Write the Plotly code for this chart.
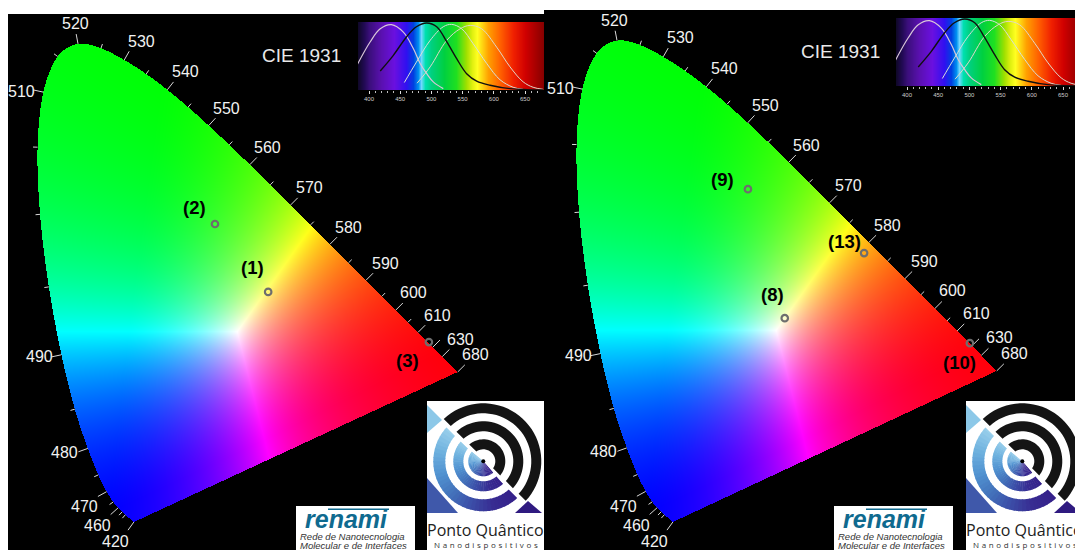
import base64, struct, zlib
import numpy as np
import plotly.graph_objects as go

# ---- data -----------------------------------------------------------------
LOCUS_NM = [420,430,440,450,455,460,465,470,475,480,485,490,495,500,505,510,515,520,525,530,535,540,545,550,555,560,565,570,575,580,585,590,595,600,605,610,615,620,625,630,640,650,660,680]
LOCUS_X = [.1714,.1689,.1644,.1566,.1510,.1440,.1355,.1241,.1096,.0913,.0687,.0454,.0235,.0082,.0039,.0139,.0389,.0743,.1142,.1547,.1929,.2296,.2658,.3016,.3373,.3731,.4087,.4441,.4788,.5125,.5448,.5752,.6029,.6270,.6482,.6658,.6801,.6915,.7006,.7079,.7190,.7260,.7300,.7347]
LOCUS_Y = [.0051,.0069,.0109,.0177,.0227,.0297,.0399,.0578,.0868,.1327,.2007,.2950,.4127,.5384,.6548,.7502,.8120,.8338,.8262,.8059,.7816,.7543,.7243,.6923,.6589,.6245,.5896,.5547,.5202,.4866,.4544,.4242,.3965,.3725,.3514,.3340,.3197,.3083,.2993,.2920,.2809,.2740,.2700,.2653]
MAJOR_TICKS = [420,460,470,480,490,510,520,530,540,550,560,570,580,590,600,610,620,630,680]
MINOR_TICKS = [450,455,465,475,485,495,500,505,515,525,535,545,555,565,575,585,595,605]
LABELLED = [420,460,470,480,490,510,520,530,540,550,560,570,580,590,600,610,630,680]
LABEL_SHIFT = {420:(-18,-19),460:(-21,-18),470:(-22,-15),480:(-23,-4),490:(-22,-2),510:(-22,1),520:(-3,20),530:(17,19),540:(18,18),550:(18,17.5),560:(18,17),570:(19,17),580:(19,17),590:(19,17),600:(18,18),610:(19,17),630:(18,17.5),680:(18,17)}

LEFT_NAMES = ["(1)","(2)","(3)"]
LEFT_PX = [.405,.3125,.6845]
LEFT_PY = [.404,.5217,.317]
LEFT_SHIFT = [(-16,24),(-20,16),(-21,-18)]
RIGHT_NAMES = ["(8)","(9)","(10)","(13)"]
RIGHT_PX = [.366,.302,.688,.504]
RIGHT_PY = [.356,.578,.313,.468]
RIGHT_SHIFT = [(-12,24),(-25,10),(-10,-19),(-20,12)]

# colour model of the diagram fill
WHITE_POINT = (0.3512, 0.335)
PRIMARY_R = (0.80, 0.335)
PRIMARY_G = (0.22, 0.85)
PRIMARY_B = (0.12, 0.01)

# cone sensitivity inset
S_NM=[381,402,418,436,455,471,482,492.5,503,519]
S_V=[.37,.71,.90,.96,.85,.61,.39,.24,.12,.02]
M1_NM=[418,439,460,476,492.5,508.5,524.5,540.5,556.5,572.6,594,626,679]
M1_V=[.28,.51,.78,.93,.985,.93,.71,.46,.24,.13,.07,.02,0]
M2_NM=[456.6,476,498,519,532.5,548.6,567,588.6,610,631,647]
M2_V=[.11,.41,.73,.93,.965,.90,.68,.39,.15,.04,.01]
L_NM=[477,498,524.5,546,562,580.6,604.6,626,647,663,679]
L_V=[.10,.34,.73,.90,.95,.90,.63,.34,.12,.04,.01]
PEAK_NM=[437,498,533,564]
PEAK_COL=["#1010c0","#ffffff","#20c020","#c01010"]
BAND_NM=[382,392,400,420,440,460,470,478,484,490,500,520,540,555,565,573,590,610,630,650,682]
BAND_COL=["#10082a","#220a55","#3a0f7a","#5a10b0","#6a10e0","#3010f0","#0040e0","#0090f0","#70d8ff","#00e0b0","#00d080","#00d040","#20e020","#a0e000","#e0f010","#ffff20","#ffa000","#ff6000","#f02000","#d00000","#800000"]
BAND_TICKS=[400,450,500,550,600,650]
BAND_MINOR=[410,420,430,440,460,470,480,490,510,520,530,540,560,570,580,590,610,620,630,640,660,670]

# logo geometry (renami / Ponto Quantico)
RING_BLACK=[(12,22),(30,40),(48,58)]
RING_BLUE=[(0,15),(20,30),(38,50)]
BLUE_RAMP=[(154,208,236),(111,178,223),(82,148,210),(68,116,188),(60,78,168),(56,44,146),(53,32,138)]

# ---- helpers --------------------------------------------------------------
PANEL_L = dict(left=8,right=544,top=14,bottom=550,x0=35.3,y0=525,sy=577)
PANEL_R = dict(left=544,right=1075,top=10,bottom=550,x0=574.3,y0=525,sy=581)
SX = 575
lx=np.array(LOCUS_X); ly=np.array(LOCUS_Y); lnm=np.array(LOCUS_NM)

def smooth_outline():
    px=[];py=[]
    n=len(lx)
    for i in range(n-1):
        i0,i1,i2,i3=max(i-1,0),i,i+1,min(i+2,n-1)
        for t in np.linspace(0,1,6,endpoint=False):
            for arr,out in ((lx,px),(ly,py)):
                a,b,c,d=arr[i0],arr[i1],arr[i2],arr[i3]
                out.append(.5*(2*b+(c-a)*t+(2*a-5*b+4*c-d)*t**2+(3*b-a-3*c+d)*t**3))
    px.append(lx[-1]);py.append(ly[-1])
    return np.array(px),np.array(py)

OUTX,OUTY=smooth_outline()

def inside(x,y):
    res=np.zeros(x.shape,bool)
    xs,ys=OUTX,OUTY
    for i in range(len(xs)):
        j=i-1
        c=((ys[i]>y)!=(ys[j]>y))
        xint=(xs[j]-xs[i])*(y-ys[i])/(ys[j]-ys[i]+1e-12)+xs[i]
        res^=c&(x<xint)
    return res

def png_uri(rgb):
    h,w,_=rgb.shape
    raw=b"".join(b"\x00"+rgb[i].tobytes() for i in range(h))
    def chunk(t,d):
        c=struct.pack(">I",len(d))+t+d
        return c+struct.pack(">I",zlib.crc32(t+d)&0xffffffff)
    data=b"\x89PNG\r\n\x1a\n"+chunk(b"IHDR",struct.pack(">IIBBBBB",w,h,8,2,0,0,0))+chunk(b"IDAT",zlib.compress(raw,6))+chunk(b"IEND",b"")
    return "data:image/png;base64,"+base64.b64encode(data).decode()

def panel_image(xr,yr,w,h):
    xs=xr[0]+(np.arange(w)+.5)/w*(xr[1]-xr[0])
    ys=yr[1]-(np.arange(h)+.5)/h*(yr[1]-yr[0])
    X,Y=np.meshgrid(xs,ys)
    T=np.array([[PRIMARY_R[0],PRIMARY_G[0],PRIMARY_B[0]],[PRIMARY_R[1],PRIMARY_G[1],PRIMARY_B[1]],[1,1,1]])
    Ti=np.linalg.inv(T)
    w0=Ti@np.array([WHITE_POINT[0],WHITE_POINT[1],1])
    P=np.stack([X,Y,np.ones_like(X)],axis=-1)
    W=(P@Ti.T)/w0
    W=np.clip(W,0,None)
    W=W/np.maximum(W.max(axis=-1,keepdims=True),1e-9)
    W=W**1.4
    img=(W*255).astype(np.uint8)
    img[~inside(X,Y)]=0
    return img

def ranges(p):
    xr=((p["left"]-p["x0"])/SX,(p["right"]-p["x0"])/SX)
    yr=((p["y0"]-p["bottom"])/p["sy"],(p["y0"]-p["top"])/p["sy"])
    return xr,yr

def tick_path(sy):
    gx=np.gradient(lx)*SX; gy=np.gradient(ly)*sy
    nx,ny=gy,-gx
    norm=np.hypot(nx,ny)+1e-9; nx=nx/norm; ny=ny/norm
    flip=((lx-.35)*nx+(ly-.33)*ny)<0
    nx[flip]*=-1; ny[flip]*=-1
    xs=[];ys=[]
    for nm,l in [(n,10) for n in MAJOR_TICKS]+[(n,4.5) for n in MINOR_TICKS]:
        i=LOCUS_NM.index(nm)
        xs+=[lx[i],lx[i]+nx[i]*l/SX,None]
        ys+=[ly[i],ly[i]+ny[i]*l/sy,None]
    return xs,ys

W_FIG,H_FIG=1075,550
fig=go.Figure()
def dom_x(a,b): return [a/W_FIG,b/W_FIG]
def dom_y(t,b): return [1-b/H_FIG,1-t/H_FIG]
hidden=dict(visible=False,showgrid=False,zeroline=False,fixedrange=True)

images=[];annots=[];shapes=[]
LABEL_FONT=dict(family="Liberation Sans",size=16,color="#f2f2f2")
NAME_FONT=dict(family="Liberation Sans",size=18.5,color="#000000")

layout_axes={}
for k,p,names,ptx,pty,shf,ciex,ciey in (("",PANEL_L,LEFT_NAMES,LEFT_PX,LEFT_PY,LEFT_SHIFT,301,55),("2",PANEL_R,RIGHT_NAMES,RIGHT_PX,RIGHT_PY,RIGHT_SHIFT,840,51)):
    xr,yr=ranges(p)
    layout_axes["xaxis"+k]=dict(hidden,domain=dom_x(p["left"],p["right"]),range=list(xr),anchor="y"+k)
    layout_axes["yaxis"+k]=dict(hidden,domain=dom_y(p["top"],p["bottom"]),range=list(yr),anchor="x"+k)
    images.append(dict(source=png_uri(panel_image(xr,yr,p["right"]-p["left"],p["bottom"]-p["top"])),xref="x"+k,yref="y"+k,x=xr[0],y=yr[1],sizex=xr[1]-xr[0],sizey=yr[1]-yr[0],sizing="stretch",layer="below",xanchor="left",yanchor="top"))
    tx,ty=tick_path(p["sy"])
    fig.add_trace(go.Scatter(x=tx,y=ty,mode="lines",line=dict(color="#d8d8d8",width=1),xaxis="x"+k,yaxis="y"+k,hoverinfo="skip",showlegend=False))
    fig.add_trace(go.Scatter(x=ptx,y=pty,mode="markers",marker=dict(symbol="circle-open",size=6.5,color="#6e6e6e",line=dict(width=2.2,color="#6e6e6e")),xaxis="x"+k,yaxis="y"+k,showlegend=False))
    for nm in LABELLED:
        i=LOCUS_NM.index(nm)
        annots.append(dict(x=lx[i],y=ly[i],xref="x"+k,yref="y"+k,text=str(nm),showarrow=False,xshift=LABEL_SHIFT[nm][0],yshift=LABEL_SHIFT[nm][1],font=LABEL_FONT,xanchor="center",yanchor="middle"))
    for n,a,b,s in zip(names,ptx,pty,shf):
        annots.append(dict(x=a,y=b,xref="x"+k,yref="y"+k,text="<b>"+n+"</b>",showarrow=False,xshift=s[0],yshift=s[1],font=NAME_FONT,xanchor="center",yanchor="middle"))
    annots.append(dict(x=ciex,y=ciey,xref="x5",yref="y5",text="CIE 1931",showarrow=False,font=dict(family="Liberation Sans",size=19,color="#e8e8e8"),xanchor="center",yanchor="middle"))

# spectrum insets
for xa,ya,off,top,bot,left,right in (("x3","y3",0,22,90,358,544),("x4","y4",538,18,86,896,1075)):
    nm0=400+(left-off-369)/.624; nm1=400+(right-off-369)/.624
    layout_axes["xaxis"+xa[1:]]=dict(domain=dom_x(left,right),range=[nm0,nm1],anchor=ya,showgrid=False,zeroline=False,fixedrange=True,showline=False,
        tickmode="array",tickvals=BAND_TICKS,ticktext=[str(v) for v in BAND_TICKS],ticks="outside",ticklen=3,tickcolor="#dddddd",tickwidth=1,
        tickfont=dict(family="Liberation Sans",size=6,color="#cccccc"),minor=dict(tickvals=BAND_MINOR,ticks="outside",ticklen=2,tickcolor="#bbbbbb"))
    layout_axes["yaxis"+ya[1:]]=dict(hidden,domain=dom_y(top,bot),range=[0,1],anchor=xa)
    scale=[[(n-BAND_NM[0])/(BAND_NM[-1]-BAND_NM[0]),c] for n,c in zip(BAND_NM,BAND_COL)]
    fig.add_trace(go.Heatmap(x=BAND_NM,y=[0,1],z=[BAND_NM,BAND_NM],zmin=BAND_NM[0],zmax=BAND_NM[-1],colorscale=scale,zsmooth="best",showscale=False,xaxis=xa,yaxis=ya,hoverinfo="skip"))
    for xs,ys,col,wd in ((S_NM,S_V,"#d8c6d8",1.2),(M2_NM,M2_V,"#d8e0d8",1.0),(L_NM,L_V,"#e0d8c8",1.0),(M1_NM,M1_V,"#101010",1.4)):
        fig.add_trace(go.Scatter(x=xs,y=ys,mode="lines",line=dict(color=col,width=wd,shape="spline"),xaxis=xa,yaxis=ya,hoverinfo="skip",showlegend=False,cliponaxis=False))
    fig.add_trace(go.Scatter(x=PEAK_NM,y=[1.04]*4,mode="markers+text",text=[str(v) for v in PEAK_NM],textposition="top center",textfont=dict(family="Liberation Sans",size=6,color="#dddddd"),
        marker=dict(symbol="triangle-down",size=6,color=PEAK_COL),xaxis=xa,yaxis=ya,showlegend=False,cliponaxis=False))

# overlay axis in picture units for the logos
layout_axes["xaxis5"]=dict(hidden,domain=[0,1],range=[0,W_FIG],anchor="y5")
layout_axes["yaxis5"]=dict(hidden,domain=[0,1],range=[H_FIG,0],anchor="x5")
fig.add_trace(go.Scatter(x=[0],y=[0],mode="markers",marker=dict(size=1,opacity=0),xaxis="x5",yaxis="y5",showlegend=False,hoverinfo="skip"))

def sector(cx,cy,r0,r1,a0,a1,trim0,trim1):
    def arc(r):
        m0=np.degrees(np.arcsin(min(trim0/r,.95))) if trim0 else 0
        m1=np.degrees(np.arcsin(min(trim1/r,.95))) if trim1 else 0
        an=np.radians(np.linspace(a0+m0,a1-m1,6))
        return [(cx+r*np.cos(t),cy-r*np.sin(t)) for t in an]
    outer=arc(r1)
    inner=list(reversed(arc(r0))) if r0>0 else [(cx,cy)]
    p=outer+inner
    return "M"+" L".join(f"{a:.2f},{b:.2f}" for a,b in p)+" Z"

def poly(points,color):
    return dict(type="path",xref="x5",yref="y5",path="M"+" L".join(f"{a},{b}" for a,b in points)+" Z",fillcolor=color,line=dict(width=0),layer="above")

def ramp(t):
    pos=t*(len(BLUE_RAMP)-1)
    c=[np.interp(pos,range(len(BLUE_RAMP)),[v[j] for v in BLUE_RAMP]) for j in range(3)]
    return "rgb(%d,%d,%d)"%tuple(c)

N_SLICES=36
for dx,rect_l,rect_r in ((0,427,544),(539,966,1075)):
    shapes.append(dict(type="rect",xref="x5",yref="y5",x0=rect_l,x1=rect_r,y0=401,y1=550,fillcolor="white",line=dict(width=0),layer="above"))
    cx,cy=483.3+dx,461.3
    for r0,r1 in RING_BLUE:
        st=180/N_SLICES
        for i in range(N_SLICES):
            last=i==N_SLICES-1
            shapes.append(dict(type="path",xref="x5",yref="y5",path=sector(cx,cy,r0,r1,135+i*st,135+(i+1)*st+(0 if last else 1),2 if i==0 else 0,2 if last else 0),fillcolor=ramp(i/(N_SLICES-1)),line=dict(width=0),layer="above"))
    for r0,r1 in RING_BLACK:
        shapes.append(dict(type="path",xref="x5",yref="y5",path=sector(cx,cy,r0,r1,-45,135,2,2).replace("Z","Z") if False else "M"+" L".join(
            f"{cx+r*np.cos(t):.2f},{cy-r*np.sin(t):.2f}" for r,t in
            [(r1,a) for a in np.radians(np.linspace(-45+np.degrees(np.arcsin(2/r1)),135-np.degrees(np.arcsin(2/r1)),40))]+
            [(r0,a) for a in np.radians(np.linspace(135-np.degrees(np.arcsin(2/r0)),-45+np.degrees(np.arcsin(2/r0)),40))])+" Z",
            fillcolor="#141414",line=dict(width=0),layer="above"))
    shapes.append(poly([(427+dx,405),(442+dx,420),(427+dx,433)],"#8cc8e8"))
    shapes.append(poly([(427+dx,478),(458+dx,513),(427+dx,513)],"#3f58aa"))
    shapes.append(poly([(515+dx,513),(542+dx,513),(528+dx,501)],"#2f1a80"))
    shapes.append(dict(type="circle",xref="x5",yref="y5",x0=cx-2,x1=cx+2,y0=cy-2,y1=cy+2,fillcolor="#000000",line=dict(width=0),layer="above"))
    annots.append(dict(x=485.5+dx,y=530,xref="x5",yref="y5",text="Ponto Quântico",showarrow=False,font=dict(family="Open Sans",size=16,color="#222222"),xanchor="center",yanchor="middle"))
    annots.append(dict(x=485.5+dx,y=544,xref="x5",yref="y5",text="\u2009\u2009".join("Nanodispositivos"),showarrow=False,font=dict(family="Open Sans",size=8,color="#333333"),xanchor="center",yanchor="middle"))

for dx in (0,538):
    shapes.append(dict(type="rect",xref="x5",yref="y5",x0=296+dx,x1=415+dx,y0=506,y1=550,fillcolor="white",line=dict(width=0),layer="above"))
    shapes.append(dict(type="rect",xref="x5",yref="y5",x0=328+dx,x1=389+dx,y0=508.5,y1=510,fillcolor="#0f6a8f",line=dict(width=0),layer="above"))
    annots.append(dict(x=346+dx,y=519,xref="x5",yref="y5",text="<b><i>renami</i></b>",showarrow=False,font=dict(family="Liberation Sans",size=25,color="#0f6a8f"),xanchor="center",yanchor="middle"))
    annots.append(dict(x=298+dx,y=536,xref="x5",yref="y5",text="<i>Rede de Nanotecnologia</i>",showarrow=False,font=dict(family="Liberation Sans",size=9.5,color="#333333"),xanchor="left",yanchor="middle"))
    annots.append(dict(x=298+dx,y=545,xref="x5",yref="y5",text="<i>Molecular e de Interfaces</i>",showarrow=False,font=dict(family="Liberation Sans",size=9.5,color="#333333"),xanchor="left",yanchor="middle"))

fig.update_layout(width=W_FIG,height=H_FIG,margin=dict(l=0,r=0,t=0,b=0,pad=0),paper_bgcolor="white",plot_bgcolor="rgba(0,0,0,0)",
    showlegend=False,images=images,shapes=shapes,annotations=annots,**layout_axes)
fig.write_html("out.html",config=dict(displayModeBar=False),post_script="document.body.style.margin='0';document.body.style.overflow='hidden';")
